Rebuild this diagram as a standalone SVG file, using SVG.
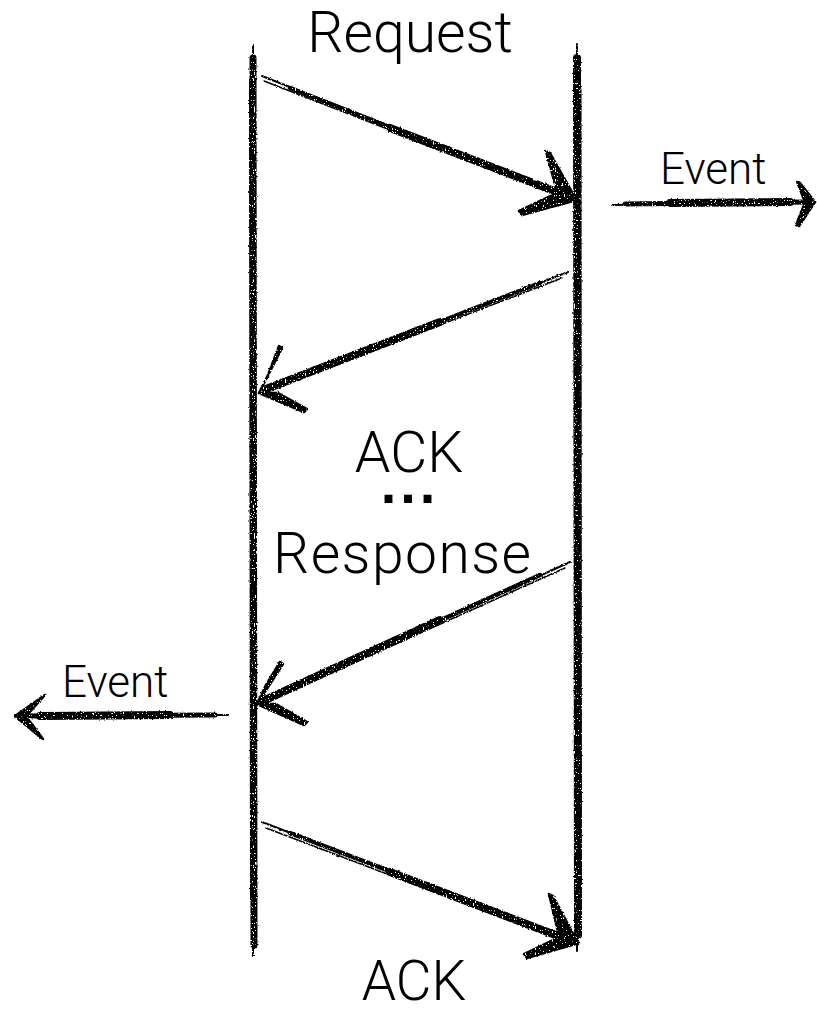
<svg xmlns="http://www.w3.org/2000/svg" width="817" height="1014" viewBox="0 0 817 1014">
  <defs>
    <!-- brush roughness: jitter the stroke edges and punch a few dry-brush specks -->
    <filter id="rough" filterUnits="userSpaceOnUse" x="0" y="0" width="817" height="1014">
      <feTurbulence type="fractalNoise" baseFrequency="0.5" numOctaves="2" seed="7" result="noise"/>
      <feDisplacementMap in="SourceGraphic" in2="noise" scale="2.5" xChannelSelector="R" yChannelSelector="G" result="jitter"/>
      <feTurbulence type="fractalNoise" baseFrequency="0.9 0.6" numOctaves="1" seed="3" result="grain"/>
      <feColorMatrix in="grain" type="matrix" values="0 0 0 0 0  0 0 0 0 0  0 0 0 0 0  20 0 0 0 -6.2" result="mask"/>
      <feComposite in="jitter" in2="mask" operator="in"/>
    </filter>
    <style>
      .label { font-family: Roboto, "Liberation Sans", Arial, sans-serif; font-weight: 300; fill: #000; }
      .big { font-size: 57px; }
      .small { font-size: 44px; }
      .dots { font-family: "Liberation Sans", Arial, sans-serif; font-size: 56px; font-weight: bold; letter-spacing: 4px; }
      .ink { stroke: #000; fill: none; stroke-linecap: round; stroke-linejoin: round; }
      .head { fill: #000; stroke: #000; stroke-width: 2.5; stroke-linejoin: round; }
    </style>
  </defs>
  <rect width="817" height="1014" fill="#fff"/>

  <!-- lifelines -->
  <g id="lifeline-left" filter="url(#rough)">
    <path class="ink" d="M253 45 L253 956" stroke-width="2"/>
    <path class="ink" d="M253 58 L254 945" stroke-width="7"/>
    <path class="ink" d="M251 80 L252 900" stroke-width="4"/>
  </g>
  <g id="lifeline-right" filter="url(#rough)">
    <path class="ink" d="M577 44 L577 951" stroke-width="2"/>
    <path class="ink" d="M577 58 L578 935" stroke-width="8"/>
    <path class="ink" d="M579 90 L579 880" stroke-width="5"/>
  </g>

  <!-- messages -->
  <g id="connectors" filter="url(#rough)">
    <!-- Request: left to right -->
    <g id="msg-request">
      <path class="ink" d="M262 76 L568 197" stroke-width="2"/>
      <path class="ink" d="M264 81 L560 196" stroke-width="1.6"/>
      <path class="ink" d="M290 88 L566 196" stroke-width="4.5"/>
      <path class="ink" d="M390 128 L562 194" stroke-width="8"/>
      <polygon class="head" points="546,151 550,153 576,199 557,192"/>
      <polygon class="head" points="519,211 522,215 577,200 555,194"/>
    </g>
    <!-- Event out to the right -->
    <g id="msg-event-right">
      <path class="ink" d="M612 205 L810 202" stroke-width="2"/>
      <path class="ink" d="M625 204 L808 202" stroke-width="5"/>
      <path class="ink" d="M670 203 L790 202" stroke-width="8"/>
      <polygon class="head" points="797,181 800,183 815,202 804,200"/>
      <polygon class="head" points="796,225 799,226 815,202 804,205"/>
    </g>
    <!-- ACK: right to left -->
    <g id="msg-ack">
      <path class="ink" d="M568 272 L263 391" stroke-width="2"/>
      <path class="ink" d="M562 278 L266 392" stroke-width="1.6"/>
      <path class="ink" d="M540 283 L264 390" stroke-width="4.5"/>
      <path class="ink" d="M440 322 L266 389" stroke-width="8"/>
      <polygon class="head" points="279,346 282,348 259,393 268,375"/>
      <polygon class="head" points="307,409 304,412 259,393 278,393"/>
    </g>
    <!-- Response: right to left -->
    <g id="msg-response">
      <path class="ink" d="M570 562 L262 702" stroke-width="2"/>
      <path class="ink" d="M565 568 L264 703" stroke-width="1.6"/>
      <path class="ink" d="M540 575 L263 701" stroke-width="4.5"/>
      <path class="ink" d="M440 620 L265 700" stroke-width="8"/>
      <polygon class="head" points="280,662 283,664 257,704 266,685"/>
      <polygon class="head" points="307,722 304,725 257,704 276,704"/>
    </g>
    <!-- Event out to the left -->
    <g id="msg-event-left">
      <path class="ink" d="M228 715 L20 716" stroke-width="2"/>
      <path class="ink" d="M215 715 L22 716" stroke-width="5"/>
      <path class="ink" d="M170 715 L40 716" stroke-width="8"/>
      <polygon class="head" points="45,695 42,697 15,716 28,714"/>
      <polygon class="head" points="43,739 40,737 15,716 28,719"/>
    </g>
    <!-- final ACK: left to right -->
    <g id="msg-ack-final">
      <path class="ink" d="M262 822 L572 941" stroke-width="2"/>
      <path class="ink" d="M266 828 L564 941" stroke-width="1.6"/>
      <path class="ink" d="M290 833 L570 940" stroke-width="4.5"/>
      <path class="ink" d="M390 872 L566 939" stroke-width="8"/>
      <polygon class="head" points="549,894 553,896 578,943 559,936"/>
      <polygon class="head" points="524,954 527,958 579,943 557,938"/>
    </g>
  </g>

  <!-- labels -->
  <g id="labels">
    <text id="label-request" class="label big" x="410" y="52" text-anchor="middle">Request</text>
    <text id="label-event-right" class="label small" x="660" y="184">Event</text>
    <text id="label-ack" class="label big" x="409" y="472" text-anchor="middle">ACK</text>
    <text id="label-dots" class="label dots" x="410" y="503" text-anchor="middle">...</text>
    <text id="label-response" class="label big" x="402" y="573" text-anchor="middle" textLength="258">Response</text>
    <text id="label-event-left" class="label small" x="62" y="697">Event</text>
    <text id="label-ack-final" class="label" x="414" y="1000" text-anchor="middle" font-size="55">ACK</text>
  </g>
</svg>
